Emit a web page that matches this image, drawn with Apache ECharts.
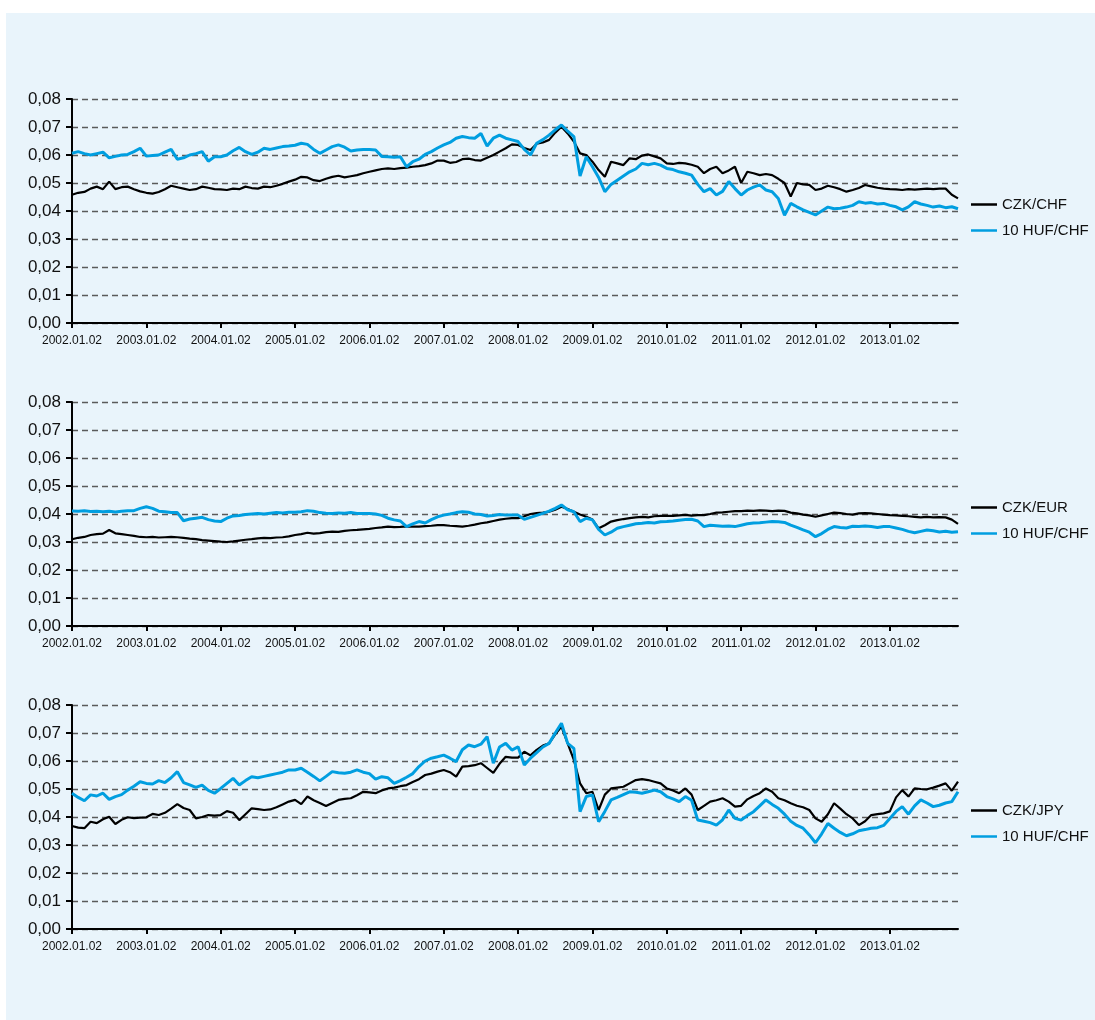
<!DOCTYPE html>
<html>
<head>
<meta charset="UTF-8">
<title>CZK / HUF</title>
<script src="https://cdn.jsdelivr.net/npm/echarts@6/dist/echarts.min.js"></script>
<style>
  html, body { margin: 0; padding: 0; background: #ffffff; }
  #chart { position: absolute; left: 6px; top: 13px; width: 1089px; height: 1007px; background: #e9f4fb; }
</style>
</head>
<body>
<div id="chart"></div>
<script>
// monthly readings, 2002.01 .. 2013.12
var czkChf = [
  0.0458, 0.0465, 0.0468, 0.0480, 0.0487, 0.0478, 0.0505, 0.0478, 0.0485, 0.0487, 0.0478, 0.0470,
  0.0465, 0.0462, 0.0468, 0.0478, 0.0490, 0.0485, 0.0480, 0.0475, 0.0478, 0.0487, 0.0483, 0.0478,
  0.0477, 0.0475, 0.0480, 0.0478, 0.0487, 0.0482, 0.0480, 0.0487, 0.0485, 0.0490, 0.0497, 0.0505,
  0.0512, 0.0522, 0.0520, 0.0510, 0.0507, 0.0515, 0.0522, 0.0526, 0.0520, 0.0524, 0.0528, 0.0535,
  0.0540, 0.0545, 0.0550, 0.0552, 0.0550, 0.0553, 0.0555, 0.0558, 0.0560, 0.0564, 0.0570, 0.0580,
  0.0580, 0.0572, 0.0575, 0.0585, 0.0587, 0.0582, 0.0580, 0.0590, 0.0600, 0.0612, 0.0624, 0.0638,
  0.0636, 0.0625, 0.0618, 0.0640, 0.0645, 0.0654, 0.0680, 0.0701, 0.0677, 0.0648, 0.0606, 0.0600,
  0.0576, 0.0546, 0.0522, 0.0576, 0.0570, 0.0564, 0.0588, 0.0585, 0.0598, 0.0602, 0.0595, 0.0588,
  0.0570, 0.0568, 0.0572, 0.0570, 0.0565, 0.0558, 0.0535, 0.0550, 0.0558, 0.0535, 0.0545, 0.0558,
  0.0500, 0.0540, 0.0535, 0.0528, 0.0532, 0.0528, 0.0515, 0.0500, 0.0452, 0.0500, 0.0495, 0.0493,
  0.0475, 0.0480, 0.0490, 0.0485, 0.0478, 0.0469, 0.0475, 0.0482, 0.0493, 0.0488, 0.0483, 0.0480,
  0.0478, 0.0477, 0.0475, 0.0478, 0.0476, 0.0478, 0.0480, 0.0478, 0.0480, 0.0480, 0.0458, 0.0445
];
var hufChf = [
  0.0606, 0.0612, 0.0605, 0.0600, 0.0605, 0.0610, 0.0590, 0.0595, 0.0600, 0.0602, 0.0612, 0.0624,
  0.0596, 0.0598, 0.0600, 0.0610, 0.0620, 0.0585, 0.0590, 0.0600, 0.0605, 0.0612, 0.0578, 0.0594,
  0.0594, 0.0600, 0.0615, 0.0627, 0.0612, 0.0602, 0.0610, 0.0624, 0.0620, 0.0625, 0.0630, 0.0632,
  0.0635, 0.0642, 0.0638, 0.0620, 0.0606, 0.0618, 0.0630, 0.0636, 0.0628, 0.0614, 0.0618, 0.0620,
  0.0620, 0.0618, 0.0595, 0.0594, 0.0592, 0.0594, 0.0558, 0.0576, 0.0585, 0.0602, 0.0612, 0.0625,
  0.0636, 0.0645, 0.0660, 0.0666, 0.0662, 0.0660, 0.0677, 0.0632, 0.0660, 0.0671, 0.0660, 0.0654,
  0.0648, 0.0620, 0.0600, 0.0642, 0.0655, 0.0671, 0.0690, 0.0707, 0.0685, 0.0666, 0.0525, 0.0594,
  0.0558, 0.0520, 0.0469, 0.0495, 0.0510, 0.0525, 0.0540, 0.0550, 0.0570, 0.0565, 0.0570, 0.0564,
  0.0552, 0.0548, 0.0540, 0.0535, 0.0528, 0.0495, 0.0469, 0.0480, 0.0457, 0.0470, 0.0505, 0.0480,
  0.0457, 0.0475, 0.0485, 0.0493, 0.0475, 0.0469, 0.0445, 0.0385, 0.0427, 0.0415, 0.0404, 0.0395,
  0.0386, 0.0400, 0.0414, 0.0408, 0.0410, 0.0414, 0.0420, 0.0433, 0.0428, 0.0430, 0.0425, 0.0427,
  0.0420, 0.0415, 0.0404, 0.0415, 0.0433, 0.0425, 0.0420, 0.0414, 0.0418, 0.0412, 0.0415, 0.0408
];
var czkEur = [
  0.0310, 0.0315, 0.0318, 0.0325, 0.0328, 0.0330, 0.0343, 0.0331, 0.0328, 0.0325, 0.0322, 0.0318,
  0.0317, 0.0318, 0.0316, 0.0317, 0.0318, 0.0317, 0.0315, 0.0312, 0.0310, 0.0307, 0.0305, 0.0303,
  0.0301, 0.0300, 0.0302, 0.0305, 0.0308, 0.0310, 0.0313, 0.0315, 0.0314, 0.0316, 0.0317, 0.0320,
  0.0325, 0.0328, 0.0333, 0.0330, 0.0332, 0.0335, 0.0337, 0.0336, 0.0340, 0.0342, 0.0343, 0.0345,
  0.0347, 0.0350, 0.0352, 0.0355, 0.0353, 0.0354, 0.0356, 0.0355, 0.0355, 0.0357, 0.0358, 0.0360,
  0.0360, 0.0358, 0.0357, 0.0355, 0.0358, 0.0362, 0.0367, 0.0370, 0.0375, 0.0380, 0.0383, 0.0385,
  0.0385, 0.0392, 0.0400, 0.0403, 0.0405, 0.0408, 0.0415, 0.0426, 0.0418, 0.0408, 0.0398, 0.0390,
  0.0380, 0.0349, 0.0360, 0.0373, 0.0378, 0.0382, 0.0385, 0.0388, 0.0390, 0.0388, 0.0392, 0.0393,
  0.0393, 0.0393, 0.0395, 0.0397, 0.0394, 0.0396, 0.0396, 0.0400, 0.0405, 0.0406, 0.0408, 0.0410,
  0.0410, 0.0412, 0.0411, 0.0413, 0.0412, 0.0410, 0.0412, 0.0411, 0.0405, 0.0402, 0.0398, 0.0395,
  0.0390, 0.0395, 0.0400, 0.0405, 0.0403, 0.0400, 0.0398, 0.0402, 0.0403, 0.0402, 0.0400, 0.0398,
  0.0396, 0.0395, 0.0393, 0.0392, 0.0390, 0.0388, 0.0390, 0.0388, 0.0389, 0.0388, 0.0380, 0.0365
];
var hufEur = [
  0.0411, 0.0410, 0.0412, 0.0409, 0.0410, 0.0408, 0.0410, 0.0407, 0.0410, 0.0412, 0.0412, 0.0420,
  0.0426, 0.0420, 0.0410, 0.0408, 0.0405, 0.0405, 0.0376, 0.0382, 0.0385, 0.0388, 0.0380, 0.0375,
  0.0373, 0.0385, 0.0393, 0.0395, 0.0398, 0.0400, 0.0402, 0.0400, 0.0403, 0.0405, 0.0404, 0.0406,
  0.0406, 0.0408, 0.0412, 0.0410, 0.0405, 0.0403, 0.0402, 0.0404, 0.0403, 0.0405, 0.0402, 0.0402,
  0.0402, 0.0400, 0.0395, 0.0385, 0.0379, 0.0375, 0.0355, 0.0365, 0.0373, 0.0368, 0.0380, 0.0390,
  0.0396, 0.0400, 0.0405, 0.0408, 0.0406, 0.0400, 0.0398, 0.0393, 0.0395, 0.0398, 0.0396, 0.0396,
  0.0396, 0.0381, 0.0388, 0.0395, 0.0402, 0.0410, 0.0420, 0.0432, 0.0415, 0.0408, 0.0373, 0.0385,
  0.0379, 0.0345, 0.0325, 0.0335, 0.0349, 0.0355, 0.0360, 0.0365, 0.0367, 0.0370, 0.0368, 0.0372,
  0.0373, 0.0375, 0.0378, 0.0380, 0.0381, 0.0375, 0.0355, 0.0360, 0.0358, 0.0356, 0.0357, 0.0355,
  0.0360, 0.0365, 0.0368, 0.0369, 0.0371, 0.0373, 0.0372, 0.0370, 0.0360, 0.0352, 0.0343, 0.0335,
  0.0319, 0.0330, 0.0345, 0.0355, 0.0352, 0.0350, 0.0356, 0.0355, 0.0357, 0.0355, 0.0352, 0.0355,
  0.0355, 0.0350, 0.0345, 0.0338, 0.0333, 0.0338, 0.0343, 0.0340, 0.0336, 0.0338, 0.0335, 0.0337
];
var czkJpy = [
  0.0368, 0.0362, 0.0360, 0.0383, 0.0378, 0.0392, 0.0401, 0.0375, 0.0390, 0.0399, 0.0396, 0.0398,
  0.0399, 0.0411, 0.0407, 0.0415, 0.0430, 0.0446, 0.0432, 0.0425, 0.0395, 0.0400, 0.0407, 0.0405,
  0.0407, 0.0421, 0.0415, 0.0389, 0.0410, 0.0431, 0.0428, 0.0425, 0.0427, 0.0435, 0.0445, 0.0455,
  0.0461, 0.0446, 0.0473, 0.0460, 0.0450, 0.0439, 0.0450, 0.0461, 0.0465, 0.0467, 0.0478, 0.0490,
  0.0488, 0.0485, 0.0495, 0.0502, 0.0505, 0.0510, 0.0514, 0.0525, 0.0535, 0.0550, 0.0555, 0.0562,
  0.0568, 0.0560, 0.0544, 0.0580, 0.0582, 0.0585, 0.0592, 0.0575, 0.0558, 0.0590, 0.0615, 0.0612,
  0.0612, 0.0633, 0.0620, 0.0640, 0.0655, 0.0663, 0.0695, 0.0723, 0.0663, 0.0604, 0.0520, 0.0485,
  0.0490, 0.0425, 0.0480, 0.0502, 0.0505, 0.0508, 0.0520, 0.0532, 0.0535, 0.0532, 0.0526, 0.0520,
  0.0502, 0.0495, 0.0485, 0.0502, 0.0480, 0.0425, 0.0440, 0.0455, 0.0460, 0.0467, 0.0455, 0.0437,
  0.0440, 0.0463, 0.0475, 0.0485, 0.0502, 0.0490, 0.0467, 0.0460, 0.0449, 0.0440, 0.0435, 0.0425,
  0.0395, 0.0383, 0.0410, 0.0449, 0.0430, 0.0410, 0.0395, 0.0371, 0.0385, 0.0407, 0.0410, 0.0413,
  0.0420, 0.0470, 0.0496, 0.0473, 0.0502, 0.0500, 0.0499, 0.0505, 0.0512, 0.0520, 0.0494, 0.0526
];
var hufJpy = [
  0.0485, 0.0470, 0.0458, 0.0479, 0.0475, 0.0485, 0.0463, 0.0473, 0.0480, 0.0496, 0.0510, 0.0526,
  0.0520, 0.0518, 0.0530, 0.0523, 0.0540, 0.0562, 0.0523, 0.0515, 0.0506, 0.0514, 0.0495, 0.0485,
  0.0502, 0.0520, 0.0538, 0.0514, 0.0530, 0.0544, 0.0540, 0.0545, 0.0550, 0.0555, 0.0560, 0.0568,
  0.0568, 0.0574, 0.0560, 0.0545, 0.0529, 0.0545, 0.0562, 0.0558, 0.0556, 0.0560, 0.0568, 0.0560,
  0.0555, 0.0535, 0.0544, 0.0540, 0.0520, 0.0530, 0.0542, 0.0555, 0.0580, 0.0600, 0.0610, 0.0615,
  0.0621, 0.0610, 0.0598, 0.0640, 0.0657, 0.0651, 0.0660, 0.0687, 0.0592, 0.0650, 0.0663, 0.0639,
  0.0651, 0.0586, 0.0610, 0.0630, 0.0650, 0.0663, 0.0700, 0.0735, 0.0663, 0.0645, 0.0419, 0.0473,
  0.0479, 0.0383, 0.0420, 0.0461, 0.0470, 0.0480, 0.0490, 0.0488, 0.0485, 0.0490, 0.0496, 0.0490,
  0.0473, 0.0465, 0.0455, 0.0473, 0.0460, 0.0389, 0.0385, 0.0380, 0.0371, 0.0390, 0.0425, 0.0395,
  0.0389, 0.0405, 0.0419, 0.0440, 0.0461, 0.0445, 0.0431, 0.0410, 0.0385, 0.0370, 0.0360, 0.0336,
  0.0308, 0.0340, 0.0377, 0.0360, 0.0345, 0.0333, 0.0340, 0.0351, 0.0355, 0.0360, 0.0362, 0.0370,
  0.0395, 0.0420, 0.0437, 0.0410, 0.0440, 0.0461, 0.0450, 0.0437, 0.0442, 0.0450, 0.0455, 0.0490
];
var firstNames = ['CZK/CHF', 'CZK/EUR', 'CZK/JPY'];
var secondName = '10 HUF/CHF';

// month categories, january ticks labelled as yyyy.01.02
var months = [];
for (var y = 2002; y <= 2013; y++) {
    for (var m = 1; m <= 12; m++) {
        months.push(y + '.' + (m < 10 ? '0' + m : m));
    }
}

var chart = echarts.init(document.getElementById('chart'), null, { renderer: 'canvas' });

var panels = [[czkChf, hufChf], [czkEur, hufEur], [czkJpy, hufJpy]];
var gridTops = [86, 389, 692];
var grids = [], xAxes = [], yAxes = [], series = [], legends = [];

function isJan(idx) { return idx % 12 === 0; }

for (var i = 0; i < 3; i++) {
    grids.push({ left: 66, top: gridTops[i], width: 886, height: 224 });
    xAxes.push({
        type: 'category',
        gridIndex: i,
        data: months,
        boundaryGap: false,
        axisLine: { lineStyle: { color: '#000', width: 2 } },
        axisTick: { interval: isJan, length: 5, lineStyle: { color: '#000', width: 2 } },
        axisLabel: {
            interval: isJan,
            margin: 12,
            color: '#111',
            fontFamily: 'Liberation Sans, Arial, sans-serif',
            fontSize: 12,
            formatter: function (v) { return v + '.02'; }
        },
        splitLine: { show: false }
    });
    yAxes.push({
        type: 'value',
        gridIndex: i,
        min: 0,
        max: 0.08,
        interval: 0.01,
        axisLine: { show: true, lineStyle: { color: '#000', width: 2 } },
        axisTick: { show: true, length: 6, lineStyle: { color: '#000', width: 2 } },
        axisLabel: {
            margin: 11,
            color: '#111',
            fontFamily: 'Liberation Sans, Arial, sans-serif',
            fontSize: 17,
            formatter: function (v) { return v.toFixed(2).replace('.', ','); }
        },
        splitLine: { show: true, lineStyle: { color: '#5a5a5a', width: 1.3, type: [6, 4] } }
    });
    series.push({
        name: firstNames[i],
        type: 'line',
        xAxisIndex: i,
        yAxisIndex: i,
        data: panels[i][0],
        symbol: 'none',
        color: '#000000',
        lineStyle: { color: '#000000', width: 2.2 },
        animation: false
    });
    series.push({
        name: secondName,
        type: 'line',
        xAxisIndex: i,
        yAxisIndex: i,
        data: panels[i][1],
        symbol: 'none',
        color: '#009ee0',
        lineStyle: { color: '#009ee0', width: 3 },
        animation: false
    });
    legends.push({
        data: [firstNames[i], secondName],
        orient: 'vertical',
        left: 960,
        top: gridTops[i] + 93,
        icon: 'rect',
        itemWidth: 26,
        itemHeight: 2.5,
        itemGap: 11,
        selectedMode: false,
        textStyle: { color: '#111', fontFamily: 'Liberation Sans, Arial, sans-serif', fontSize: 15 }
    });
}

chart.setOption({
    backgroundColor: 'transparent',
    animation: false,
    grid: grids,
    xAxis: xAxes,
    yAxis: yAxes,
    legend: legends,
    series: series
});
</script>
</body>
</html>
